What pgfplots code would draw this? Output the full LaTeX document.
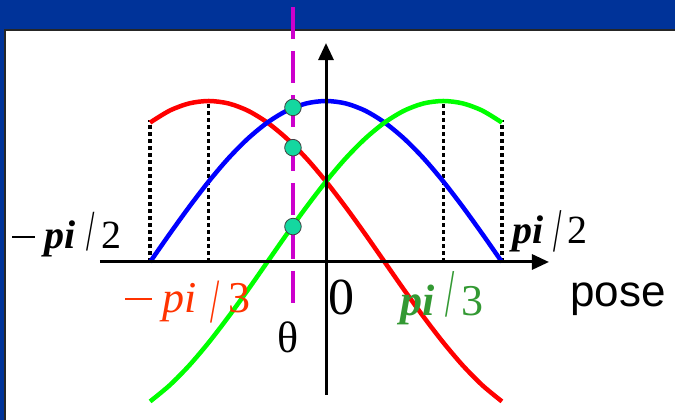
\documentclass[border=0pt]{standalone}
\usepackage{pgfplots}
\pgfplotsset{compat=1.18}
\usepackage{pgfplotstable}
\usepackage{graphicx}
\usepackage{fontspec}
\setmainfont{Liberation Serif}
\newfontfamily\arialfont{Liberation Sans}
\usetikzlibrary{arrows.meta}
\definecolor{frameblue}{RGB}{0,51,153}
\definecolor{cred}{RGB}{255,0,0}
\definecolor{cblue}{RGB}{0,0,255}
\definecolor{cgreen}{RGB}{0,255,0}
\definecolor{lred}{RGB}{255,51,0}
\definecolor{lgreen}{RGB}{51,153,51}
\definecolor{cmag}{RGB}{204,0,204}
\definecolor{cdot}{RGB}{20,215,160}

\pgfplotstableread{
x b r g
-1.5708 0 0.866 -0.866
-1.3963 0.174 0.940 -0.766
-1.2217 0.342 0.985 -0.643
-1.0472 0.5 1 -0.5
-0.8727 0.643 0.985 -0.342
-0.6981 0.766 0.940 -0.174
-0.5236 0.866 0.866 0
-0.3491 0.940 0.766 0.174
-0.1745 0.985 0.643 0.342
0 1 0.5 0.5
0.1745 0.985 0.342 0.643
0.3491 0.940 0.174 0.766
0.5236 0.866 0 0.866
0.6981 0.766 -0.174 0.940
0.8727 0.643 -0.342 0.985
1.0472 0.5 -0.5 1
1.2217 0.342 -0.643 0.985
1.3963 0.174 -0.766 0.940
1.5708 0 -0.866 0.866
}\curves

\newcommand{\mbar}[2]{\raisebox{#1}{\rule{#2}{2.4pt}}}
\newcommand{\tslash}[2]{\raisebox{#1}{\scalebox{0.75}[#2]{/}}}

\begin{document}
\begin{tikzpicture}
\useasboundingbox (0pt,0pt) rectangle (675pt,420pt);
\fill[frameblue] (0pt,0pt) rectangle (675pt,420pt);
\fill[white] (5pt,0pt) rectangle (675pt,390pt);
\draw[line width=1.2pt, black!85] (5pt,0pt) -- (5pt,390pt) -- (675pt,390pt);
\begin{axis}[at={(0pt,0pt)}, anchor=south west, scale only axis,
  width=675pt, height=420pt,
  xmin=-2.9107, xmax=3.1161, ymin=-0.9814, ymax=1.6273,
  hide axis, clip=false]
% dotted guide lines
\addplot[black, line width=3.5pt, dash pattern=on 3.5pt off 3.5pt] coordinates {(-1.5708,0) (-1.5708,0.88)};
\addplot[black, line width=3.5pt, dash pattern=on 3.5pt off 3.5pt] coordinates {(-1.0472,0) (-1.0472,1.0)};
\addplot[black, line width=3.5pt, dash pattern=on 3.5pt off 3.5pt] coordinates {(1.0472,0) (1.0472,1.0)};
\addplot[black, line width=3.5pt, dash pattern=on 3.5pt off 3.5pt] coordinates {(1.5708,0) (1.5708,0.88)};
% curves
\addplot[cred, line width=4.5pt, smooth] table[x=x, y=r] {\curves};
\addplot[cblue, line width=4.5pt, smooth] table[x=x, y=b] {\curves};
\addplot[cgreen, line width=4.5pt, smooth] table[x=x, y=g] {\curves};
% axes
\draw[line width=3pt, -{Triangle[length=17pt,width=15pt]}] (axis cs:-2.018,0) -- (axis cs:1.991,0);
\draw[line width=3pt, -{Triangle[length=17pt,width=15pt]}] (axis cs:0,-0.826) -- (axis cs:0,1.360);
% theta line
\addplot[cmag, line width=4pt, dash pattern=on 32pt off 12pt] coordinates {(-0.295,1.584) (-0.295,-0.255)};
\addplot[only marks, mark=*, mark size=8.3pt, mark options={fill=cdot, draw=black!75, line width=0.8pt}] coordinates {(-0.295,0.96) (-0.295,0.71) (-0.295,0.22)};
\end{axis}
\node[anchor=base west, inner sep=0pt] at (12pt,171pt) {\fontsize{40}{40}\selectfont \mbar{11pt}{23pt}\hspace{9pt}\textbf{\textit{pi}}\hspace{11pt}\tslash{-2pt}{1.45}\hspace{7pt}2};
\node[anchor=base west, inner sep=0pt] at (512pt,176pt) {\fontsize{40}{40}\selectfont \textbf{\textit{pi}}\hspace{10pt}\tslash{-8pt}{1.55}\hspace{6pt}2};
\node[anchor=base west, inner sep=0pt, text=lred] at (125pt,107pt) {\fontsize{44}{44}\selectfont \mbar{13pt}{27pt}\hspace{10pt}\textit{pi}\hspace{14pt}\tslash{-10pt}{1.43}\hspace{9pt}3};
\node[anchor=base west, inner sep=0pt, text=lgreen] at (400pt,104pt) {\fontsize{44}{44}\selectfont \textbf{\textit{pi}}\hspace{11pt}\tslash{-1pt}{1.55}\hspace{7pt}3};
\node[anchor=base west, inner sep=0pt] at (328pt,105pt) {\fontsize{52}{52}\selectfont 0};
\node[anchor=base west, inner sep=0pt] at (570pt,113pt) {\arialfont\fontsize{44}{44}\selectfont pose};
\node[anchor=base, inner sep=0pt] at (288pt,67pt) {\fontsize{44}{44}\selectfont θ};
\end{tikzpicture}
\end{document}
